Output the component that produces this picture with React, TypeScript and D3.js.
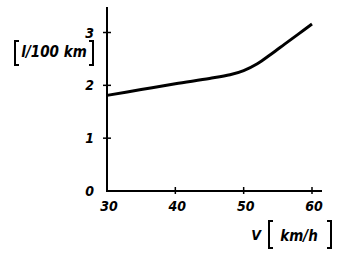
import React from "react";
import * as d3 from "d3";

const speeds = [30, 35, 40, 45, 48, 50, 52, 54, 56, 58, 60];
const consumption = [1.81, 1.92, 2.03, 2.13, 2.2, 2.28, 2.41, 2.59, 2.78, 2.97, 3.16];
const xTicks = [30, 40, 50, 60];
const yTicks = [0, 1, 2, 3];

const W = 350;
const H = 259;

export default function App() {
  const x = d3.scaleLinear().domain([30, 60]).range([107, 312]);
  const y = d3.scaleLinear().domain([0, 3]).range([191, 32.5]);
  const line = d3
    .line<number>()
    .x((_, i) => x(speeds[i]))
    .y((d) => y(d))
    .curve(d3.curveCatmullRom.alpha(0.5));
  const font = {
    fontFamily: "DejaVu Sans Condensed, DejaVu Sans",
    fontStyle: "italic" as const,
    fontWeight: "bold" as const,
  };
  return (
    <svg
      width={W}
      height={H}
      style={{ position: "absolute", left: 0, top: 0, background: "#fff" }}
    >
      {/* axes */}
      <line x1={x(30)} x2={x(30)} y1={7} y2={y(0) + 1} stroke="#000" strokeWidth={2} />
      <line x1={x(30) - 1} x2={322} y1={y(0)} y2={y(0)} stroke="#000" strokeWidth={2} />
      {yTicks
        .filter((t) => t > 0)
        .map((t) => (
          <line
            key={"yt" + t}
            x1={x(30) - 4}
            x2={x(30) + 4}
            y1={y(t)}
            y2={y(t)}
            stroke="#000"
            strokeWidth={1.5}
          />
        ))}
      {xTicks
        .filter((t) => t > 30)
        .map((t) => (
          <line
            key={"xt" + t}
            x1={x(t)}
            x2={x(t)}
            y1={y(0) - 4}
            y2={y(0) + 3}
            stroke="#000"
            strokeWidth={1.5}
          />
        ))}
      {yTicks.map((t) => (
        <text
          key={"yl" + t}
          x={94}
          y={y(t) + 5}
          textAnchor="end"
          fontSize={14}
          {...font}
        >
          {t}
        </text>
      ))}
      {xTicks.map((t) => (
        <text
          key={"xl" + t}
          x={x(t) + 2}
          y={211}
          textAnchor="middle"
          fontSize={14}
          {...font}
        >
          {t}
        </text>
      ))}
      {/* curve */}
      <path d={line(consumption) || ""} fill="none" stroke="#000" strokeWidth={3} />
      {/* y label */}
      <path d="M19,41 L15,41 L15,65 L19,65" fill="none" stroke="#000" strokeWidth={2} />
      <path d="M89,41 L93,41 L93,65 L89,65" fill="none" stroke="#000" strokeWidth={2} />
      <text x={54} y={57} textAnchor="middle" fontSize={15} {...font}>
        l/100 km
      </text>
      {/* x label */}
      <text x={256} y={240} textAnchor="middle" fontSize={14} {...font}>
        V
      </text>
      <path d="M273,221 L269,221 L269,248 L273,248" fill="none" stroke="#000" strokeWidth={2} />
      <path d="M327,221 L331,221 L331,248 L327,248" fill="none" stroke="#000" strokeWidth={2} />
      <text x={299} y={241} textAnchor="middle" fontSize={15} {...font}>
        km/h
      </text>
    </svg>
  );
}
